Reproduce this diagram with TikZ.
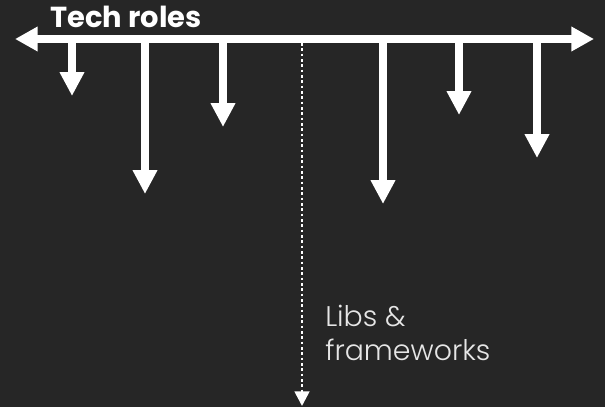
\documentclass[tikz,border=0pt]{standalone}
\usepackage{fontspec}
\setmainfont{Poppins}
\newfontfamily\boldfnt{Poppins}[UprightFont=* Bold]
\newfontfamily\lightfnt{Poppins}[UprightFont=* Light]
\usetikzlibrary{arrows.meta}
\definecolor{bg}{HTML}{262626}
\definecolor{fg}{HTML}{FFFFFF}
\definecolor{txt}{HTML}{E6E6E6}
\tikzset{
  axis/.style={draw=fg, line width=5.4pt, {Triangle[length=17pt,width=17.5pt]}-{Triangle[length=17pt,width=17.5pt]}},
  role/.style={draw=fg, line width=6pt, -{Triangle[length=18pt,width=17.5pt]}},
  dotline/.style={draw=fg, line width=2pt, dash pattern=on 2pt off 2pt, -{Triangle[length=11pt,width=11pt]}},
  title/.style={text=fg, font=\boldfnt\fontsize{21.7}{26}\selectfont, inner sep=0pt},
  lbl/.style={text=txt, font=\lightfnt\fontsize{21.3}{26}\selectfont, inner sep=0pt},
}
\begin{document}
\begin{tikzpicture}[x=0.75pt, y=-0.75pt]
\fill[bg] (0,0) rectangle (605,407);
\useasboundingbox (0,0) rectangle (605,407);
% axis
\coordinate (L) at (15,39);
\coordinate (R) at (594,39);
\draw[axis] (L) -- (R);
% role arrows
\coordinate (s1) at (72,39);   \coordinate (e1) at (72,96);
\coordinate (s2) at (145,39);  \coordinate (e2) at (145,194);
\coordinate (s3) at (223,39);  \coordinate (e3) at (223,127);
\coordinate (s4) at (383,39);  \coordinate (e4) at (383,204);
\coordinate (s5) at (459,39);  \coordinate (e5) at (459,115);
\coordinate (s6) at (537,39);  \coordinate (e6) at (537,158);
\foreach \i in {1,...,6} { \draw[role] (s\i) -- (e\i); }
% dotted arrow
\coordinate (ds) at (302,43);
\coordinate (de) at (302,406);
\draw[dotline] (ds) -- (de);
% texts
\node[title, anchor=base west] (tr) at (50,27) {Tech roles};
\node[lbl, anchor=base west] (libs) at (325,326) {Libs \&};
\node[lbl, anchor=base west] (fw) at (325,360) {frameworks};
\end{tikzpicture}
\end{document}
